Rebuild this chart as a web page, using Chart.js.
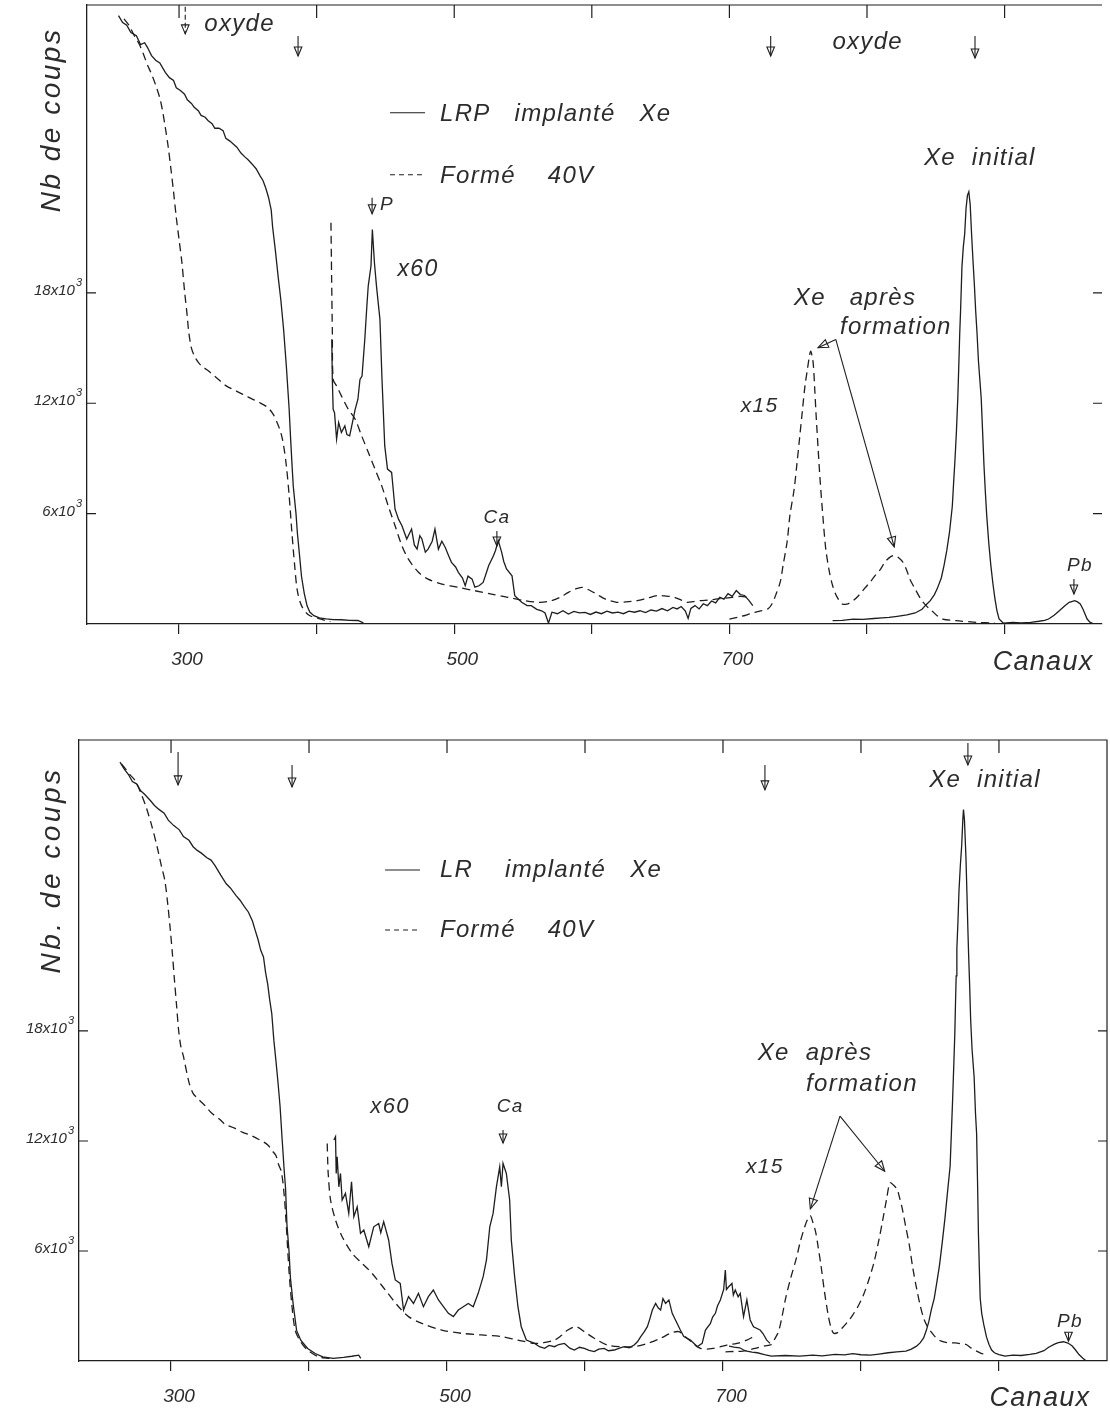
<!DOCTYPE html>
<html lang="fr">
<head>
<meta charset="utf-8">
<title>Spectres - LRP / LR implantés Xe</title>
<script src="https://cdn.jsdelivr.net/npm/chart.js@4.4.0/dist/chart.umd.min.js"></script>
<style>
  html, body { margin: 0; padding: 0; background: #fff; }
  #haut { position: absolute; left: 0; top: 0; }
  #bas { position: absolute; left: 0; top: 700px; }
</style>
</head>
<body>
<canvas id="haut" width="1110" height="700"></canvas>
<canvas id="bas" width="1110" height="717"></canvas>
<script>
// --- donnees : [canal, nb de coups] ---

// panneau du haut : LRP implanté Xe (trait plein) / Formé 40V (tirets)
const lrpBrut = [[256,33070],[259,32700],[262,32550],[265,32150],[269,31980],[272,31500],[275,31600],[277,31350],[280,30900],[283,30650],[286,30500],[290,29990],[293,29700],[296,29550],[298,29150],[301,29000],[304,28800],[306,28500],[309,28300],[311,28090],[314,27900],[316,27650],[319,27550],[321,27370],[324,27200],[326,26950],[329,26950],[332,26820],[334,26400],[337,26250],[340,26050],[342,25920],[345,25600],[348,25380],[350,25250],[353,25010],[356,24750],[359,24350],[361,24110],[363,23700],[365,23200],[367,22500],[368,21580],[370,20310],[372,18900],[374,17600],[376,16000],[378,14000],[380,11700],[381,10200],[382,8800],[383,7500],[385,6000],[386,4950],[388,3400],[389,2580],[391,1670],[393,1000],[395,650],[398,450],[402,330],[407,280],[412,240],[418,230],[424,200],[430,190],[434,60]];
const lrpFormeBrut = [[260,32900],[264,32500],[268,31900],[271,31530],[274,31000],[277,30400],[280,29900],[283,29300],[286,28600],[288,27900],[290,27000],[292,26000],[294,24800],[296,23500],[298,22100],[300,20900],[302,19700],[304,18100],[306,16700],[307,15900],[309,15000],[312,14450],[316,14050],[321,13780],[327,13400],[334,12960],[342,12650],[350,12350],[358,12050],[364,11800],[368,11450],[371,11000],[374,10400],[376,9700],[378,8600],[380,7000],[382,5000],[384,3200],[386,1800],[389,1000],[394,500],[401,300],[410,130]];
const lrpX60 = [[411,15480],[411.4,13300],[412,11670],[413,11490],[414.5,10050],[416,10950],[418,10410],[420.5,10770],[422,10300],[424,10230],[426.5,11130],[428,11670],[430,12220],[431.5,13300],[433,13480],[435,15480],[436.5,17290],[437.5,18370],[439.5,19460],[440.5,21450],[442,19640],[443.5,18370],[446,16560],[447.5,13300],[449.5,9680],[451.5,8420],[454.5,8240],[457,6240],[459.5,5700],[462,5340],[465.5,4620],[469,5160],[471,4300],[473,4070],[475,4800],[476.5,4620],[479,3900],[481,4070],[484,4500],[486,5160],[488.5,4070],[491,4500],[493.5,4160],[496,3700],[498,3350],[501,3100],[503,2810],[506,2500],[508,2080],[510,2600],[513,2440],[515,2000],[518,2080],[521,2260],[523,2700],[525,3170],[528.5,3710],[530,4000],[532,4530],[534.5,3890],[536,3400],[538,2990],[542,2620],[544,1540],[549,1180],[553,1000],[556,1000],[560,800],[563.5,720],[566,600],[568.5,50],[571,640],[575,560],[579,720],[583,540],[587,680],[591,600],[595,630],[599,520],[603,650],[607,560],[611,700],[615,600],[619,640],[623,560],[627,700],[631,640],[635,720],[639,620],[643,760],[647,700],[651,840],[655,720],[659,900],[662,820],[665,950],[668,700],[670,300],[672,850],[675,1000],[678,820],[681,1100],[684,1000],[687,1250],[690,1150],[693,1450],[696,1350],[699,1650],[702,1500],[705,1820],[708,1600],[711,1550],[714,1300],[717,1000]];
const lrpFormeX60 = [[410.4,21810],[410.7,20000],[410.9,18730],[411.2,17000],[411.4,16020],[412,13300],[414.5,12940],[418,12400],[423,11670],[428,11130],[432.7,10230],[437.6,9320],[442.4,8420],[447.3,7510],[452,6430],[457,5340],[462,4250],[466.7,3530],[474,2810],[481,2440],[491,2170],[503,1990],[515,1810],[527,1630],[539,1450],[551,1270],[562,1180],[570,1250],[577,1450],[583,1720],[588,1900],[593,1990],[598,1850],[604,1600],[610,1350],[618,1180],[625,1200],[633,1270],[640,1400],[648,1550],[654,1520],[660,1450],[665,1300],[669,1180],[674,1220],[679,1270],[685,1300],[690,1350],[696,1400],[702,1450],[708,1500],[714,1450]];
const lrpFormeX15 = [[700,270],[708,400],[715,550],[722,700],[728,820],[731,1100],[734,1640],[737,2300],[739,3190],[742,4500],[744,5920],[747,7300],[749,8650],[751,10100],[753,11560],[755,13000],[756.5,13740],[758,14500],[759,14830],[760,14600],[761,14100],[762,12800],[763,11380],[764.5,9500],[766,7740],[768,5800],[770,4100],[772.5,2900],[775,2090],[778,1500],[782,1090],[786,1100],[790,1270],[794,1550],[798,1910],[802,2250],[806,2640],[810,3000],[813,3370],[817,3650],[820,3730],[823,3600],[826,3370],[829,2900],[831,2460],[835,1900],[839,1370],[843,1000],[847,730],[851,450],[855,270],[865,180],[880,90],[893,50]];
const lrpXe = [[775,180],[782,200],[790,270],[797,250],[805,300],[811,330],[816,360],[822,420],[829,500],[835,600],[840,800],[843,1050],[846,1270],[849,1600],[851,1910],[854,2500],[856,3190],[858,4000],[860,5010],[862,6400],[863,7740],[864,9000],[865,10470],[866,12300],[866.7,14000],[867.4,15800],[868,17000],[869,19400],[870,20500],[871,21210],[872,22600],[873,23300],[874,23500],[875,22800],[876,21210],[877,19800],[878,18500],[879,17000],[880,15780],[881,14300],[883,12290],[884,10500],[885,8650],[886,7200],[887,5920],[888.5,4400],[890,3190],[891.5,2200],[893,1370],[894.5,700],[896,270],[899,50],[906,90],[912,60],[919,90],[925,150],[929,200],[932,270],[936,480],[940,730],[944,1000],[947,1180],[951,1270],[953,1200],[955,1090],[957,800],[960,270],[962,100],[965,0]];

// panneau du bas : LR implanté Xe (trait plein) / Formé 40V (tirets)
const lrBrut = [[263,32660],[266,32300],[269,32000],[272,31600],[275,31480],[278,31100],[281,30900],[285,30570],[288,30300],[291,30100],[295,29880],[298,29500],[302,29200],[306,28970],[309,28600],[313,28400],[316,28050],[319,27850],[322,27700],[326,27450],[329,27320],[332,27000],[336,26500],[340,26030],[343,25800],[347,25400],[350,25130],[353,24800],[356,24490],[359,24000],[361,23490],[363,23000],[365,22400],[367,22040],[368.5,21200],[370,20580],[371.5,19700],[373,18950],[374.5,17500],[376,16400],[377.5,15200],[379,13910],[380.5,12110],[382,10400],[383,9410],[384,7430],[385.5,5990],[386.5,4550],[388.5,3110],[391,1670],[394,1130],[399,680],[404.5,410],[410,230],[417.5,140],[425,200],[431,260],[436,320],[437.5,140]];
const lrFormeBrut = [[264,32570],[267,32300],[270,32000],[274,31660],[278,31000],[282,30200],[286,29200],[290,28020],[293,27000],[295.5,26210],[297.5,25000],[299.5,23490],[301,22200],[302.5,20760],[304,19400],[305.5,18040],[307,17200],[309,16610],[313,15200],[316,14600],[320,14270],[325,13900],[329,13550],[335,13200],[339,12920],[346,12700],[352,12470],[358,12300],[363,12110],[367,11950],[370.5,11750],[373.5,11450],[376,11210],[378,10700],[380,10310],[382,9050],[383.5,7430],[385.5,4910],[387.5,3110],[390,1670],[394,1040],[399,590],[407,230],[415,140]];
const lrX60 = [[418,12050],[419.2,12230],[419.7,10230],[420.4,11140],[421.6,9500],[422.8,10230],[424,8780],[426.4,9140],[428.8,8050],[430.8,9780],[432.5,7870],[434.9,8410],[437.3,6960],[439.7,7140],[443.3,6230],[446.9,7320],[450.5,7500],[452,7000],[454.1,7600],[457.7,6600],[460.1,5320],[462.5,4420],[466.1,4230],[468.5,2780],[472.1,3510],[475.7,3140],[479.3,3690],[482.9,2960],[486.5,3510],[490.1,3870],[493.8,3330],[497.4,2960],[501,2600],[504.6,2420],[508.2,2780],[511.8,2960],[515.4,3140],[519,2960],[522.6,3690],[526.2,4600],[528.6,5510],[531,7320],[533.4,8050],[535.8,9500],[538.2,10590],[539.4,9500],[540.6,10780],[543,10230],[545.4,8780],[546.6,6600],[549,4600],[551.4,2960],[553.8,1870],[557.5,1140],[563.5,960],[567,780],[570.7,690],[574,850],[577.9,780],[581,900],[585.1,960],[589,700],[592.3,600],[596,750],[599.5,690],[603,580],[606.7,510],[610,650],[613.9,690],[617,560],[621.2,600],[625,700],[628.4,780],[632,720],[635.6,870],[638,1050],[640.4,1330],[643,1600],[645.2,1870],[647,2300],[648.8,2780],[651.2,3140],[653,2900],[654.8,2780],[656.5,3400],[658.4,3140],[660.8,3330],[663.2,2600],[666.8,2050],[669,1700],[671.6,1330],[676.4,1140],[679,950],[681.3,780],[684.9,960],[687.3,1690],[690.9,2050],[692.5,2400],[694.5,2600],[696,3000],[698.1,3330],[700.5,3900],[701.7,4960],[702.5,3900],[704.1,4050],[706.5,4230],[707.5,3600],[708.9,3870],[711,3500],[712.5,3690],[714.9,2420],[717.3,3330],[719.7,2240],[722.1,1870],[726.9,1690],[729,1500],[731.7,1140],[734.1,960]];
const lrFormeX60 = [[413.2,11860],[413.5,11000],[413.9,10230],[415.6,8780],[419.2,7690],[424,6780],[431.3,5870],[438.5,5320],[445.7,4780],[455.3,3870],[464.9,2960],[472.1,2420],[481.7,2050],[496.2,1690],[510.6,1510],[525,1420],[539.4,1330],[551.4,1140],[563.5,960],[570,1000],[577.9,1140],[583,1400],[587.5,1690],[593.5,1870],[599.5,1600],[606.7,1240],[616.3,870],[626,780],[635.6,780],[645.2,960],[654.8,1240],[662,1510],[668,1600],[674,1240],[683.7,690],[693.3,690],[702.9,870],[710.1,960],[717.3,1140],[722.1,1330]];
const lrFormeX15 = [[701.8,500],[708,520],[714.6,540],[720,620],[724.9,720],[730,820],[735.1,900],[737.5,1200],[740.3,1620],[743,2500],[745.4,3420],[749,4500],[753.1,5580],[756,6500],[759.5,7380],[761.5,7750],[763.3,7920],[765,7600],[767.2,7020],[769,6200],[771,5220],[773.5,3800],[776.2,2520],[778,1900],[780,1530],[783,1550],[786.4,1800],[790,2100],[794.1,2520],[798,3000],[801.8,3600],[806,4500],[809.5,5400],[813,6600],[815.9,7740],[818.5,8800],[821,9720],[823.5,9600],[826.2,9360],[828,8900],[830,8280],[832.5,7300],[835.1,6300],[837.5,5100],[840.3,3960],[843,3000],[845.4,2340],[848,1900],[850.5,1620],[854,1300],[858.2,1080],[863,1000],[868.5,990],[872,950],[876.2,900],[880,700],[883.8,540],[887,420],[891.5,360]];
const lrXe = [[704.4,810],[708,760],[712.1,720],[715,600],[717.2,540],[721,480],[724.9,450],[730,350],[735.1,270],[745,300],[755.6,270],[765,320],[772,280],[781.3,360],[788,330],[794.1,400],[800,340],[806.9,320],[813,380],[819.7,450],[826,500],[832.6,540],[836.5,650],[840.3,810],[843,1000],[845.4,1260],[847.5,1700],[849.2,2160],[851,2800],[853.1,3420],[855,4300],[856.9,5220],[858.8,6400],[860.8,7740],[862.7,9200],[864.6,10620],[865.5,12400],[866.4,14220],[867.2,16000],[868,17820],[868.5,19500],[869,21000],[869.5,22500],[870.3,24000],[871,25590],[872,27000],[873,28130],[873.8,29500],[874.3,30080],[875,29500],[876.1,27420],[876.8,25500],[877.4,23750],[878,22200],[878.7,20630],[879.5,18600],[880.5,17000],[882,15500],[883,13500],[883.8,12420],[884.5,9700],[885.1,7020],[885.8,5000],[886.4,3420],[887.5,2600],[889,1980],[891,1300],[892.8,900],[894.7,600],[896.7,450],[900,350],[904.4,270],[910,320],[916,300],[922.3,360],[927,420],[932.6,560],[936,750],[940.3,920],[943,1000],[946.7,1050],[950,980],[953.1,820],[955.5,600],[958,350],[960.8,150],[963.3,0]];

// graduations
const canauxEtiquetes = [300, 500, 700];
const coupsEtiquetes = [6000, 12000, 18000];

// --- textes et flèches (en coordonnées canal / coups) ---
const textesHaut = [
  { t: 'oxyde', ch: 344, c: 32620, s: 24 },
  { t: 'oxyde', ch: 800.5, c: 31630, s: 24 },
  { t: 'LRP   implanté   Xe', ch: 489.7, c: 27680, s: 24, a: 'left' },
  { t: 'Formé    40V', ch: 489.7, c: 24310, s: 24, a: 'left' },
  { t: 'Xe  initial', ch: 882, c: 25340, s: 24 },
  { t: 'P', ch: 446, c: 22790, s: 19, a: 'left' },
  { t: 'x60', ch: 473.7, c: 19250, s: 23 },
  { t: 'Xe   après', ch: 791.3, c: 17730, s: 24 },
  { t: 'formation', ch: 821, c: 16150, s: 24 },
  { t: 'x15', ch: 722, c: 11850, s: 21 },
  { t: 'Ca', ch: 531, c: 5760, s: 19 },
  { t: 'Pb', ch: 954.8, c: 3150, s: 19 },
  { t: 'Canaux', ch: 928, c: -2070, s: 27 }
];
const flechesHaut = [
  { ch: 304.5, c1: 33550, c2: 32080, tirets: true },
  { ch: 386.5, c1: 31970, c2: 30880 },
  { ch: 730, c1: 31970, c2: 30880 },
  { ch: 878.5, c1: 31970, c2: 30770 },
  { ch: 440.3, c1: 23170, c2: 22300 },
  { ch: 531, c1: 5060, c2: 4240 },
  { ch: 950.4, c1: 2450, c2: 1630 }
];
const renvoisHaut = [
  { de: [777.3, 15470], a: [764.4, 15020] },
  { de: [777.3, 15470], a: [819.8, 4190] }
];

const textesBas = [
  { t: 'Xe  initial', ch: 889.9, c: 31690, s: 24 },
  { t: 'LR    implanté   Xe', ch: 494.9, c: 26780, s: 24, a: 'left' },
  { t: 'Formé    40V', ch: 494.9, c: 23510, s: 24, a: 'left' },
  { t: 'x60', ch: 458.7, c: 13860, s: 22 },
  { t: 'Ca', ch: 545.7, c: 13860, s: 19 },
  { t: 'Xe  après', ch: 766.7, c: 16800, s: 24 },
  { t: 'formation', ch: 800.7, c: 15110, s: 24 },
  { t: 'x15', ch: 730.4, c: 10580, s: 21 },
  { t: 'Pb', ch: 951.4, c: 2150, s: 19 },
  { t: 'Canaux', ch: 929.7, c: -2020, s: 27 }
];
const flechesBas = [
  { ch: 305.1, c1: 33220, c2: 31420 },
  { ch: 387.7, c1: 32510, c2: 31310 },
  { ch: 730.4, c1: 32510, c2: 31150 },
  { ch: 877.5, c1: 33710, c2: 32510 },
  { ch: 540.6, c1: 12600, c2: 11890 },
  { ch: 950.4, c1: 1550, c2: 1080 }
];
const renvoisBas = [
  { de: [784.8, 13360], a: [763.3, 8300] },
  { de: [784.8, 13360], a: [817.2, 10350] }
];

const ENCRE = '#1e1e1e';
const TEXTE = '#2c2c2c';
const POLICE = '"Liberation Sans", "Noto Sans", sans-serif';

function fleche(ctx, x1, y1, x2, y2, taille) {
  ctx.beginPath();
  ctx.moveTo(x1, y1);
  ctx.lineTo(x2, y2);
  ctx.stroke();
  ctx.setLineDash([]);
  const ang = Math.atan2(y2 - y1, x2 - x1);
  const bx = x2 - taille * Math.cos(ang), by = y2 - taille * Math.sin(ang);
  const px = -Math.sin(ang) * taille * 0.42, py = Math.cos(ang) * taille * 0.42;
  ctx.beginPath();
  ctx.moveTo(x2, y2);
  ctx.lineTo(bx + px, by + py);
  ctx.lineTo(bx - px, by - py);
  ctx.closePath();
  ctx.stroke();
}

// cadre, graduations intérieures, étiquettes des coups, titres et annotations
const habillage = {
  id: 'habillage',
  afterDraw(chart, args, opts) {
    const { ctx, chartArea: a, scales: { x, y } } = chart;
    const X = v => x.getPixelForValue(v);
    const Y = v => y.getPixelForValue(v);
    ctx.save();
    ctx.strokeStyle = ENCRE;
    ctx.lineWidth = 1.2;

    ctx.beginPath();
    ctx.moveTo(a.left, a.top);
    ctx.lineTo(a.right, a.top);
    if (opts.cadreDroit) ctx.lineTo(a.right, a.bottom);
    ctx.stroke();

    for (let c = 300; c <= x.max; c += 100) {
      ctx.beginPath();
      ctx.moveTo(X(c), a.top);
      ctx.lineTo(X(c), a.top + 13);
      ctx.stroke();
    }
    coupsEtiquetes.forEach(v => {
      ctx.beginPath();
      ctx.moveTo(a.left, Y(v));
      ctx.lineTo(a.left + 9, Y(v));
      ctx.moveTo(a.right - 9, Y(v));
      ctx.lineTo(a.right, Y(v));
      ctx.stroke();
    });

    ctx.fillStyle = TEXTE;

    // étiquettes 6x10^3 ... avec exposant
    ctx.textBaseline = 'alphabetic';
    coupsEtiquetes.forEach(v => {
      ctx.font = 'italic 11px ' + POLICE;
      const wExp = ctx.measureText('3').width;
      const xExp = a.left - 5 - wExp;
      ctx.textAlign = 'left';
      ctx.fillText('3', xExp, Y(v) - 7);
      ctx.font = 'italic 15px ' + POLICE;
      ctx.textAlign = 'right';
      ctx.fillText((v / 1000) + 'x10', xExp - 1, Y(v) + 2);
    });

    ctx.textBaseline = 'middle';

    // titre vertical
    ctx.save();
    ctx.translate(X(opts.titre.ch), Y(opts.titre.c));
    ctx.rotate(-Math.PI / 2);
    ctx.textAlign = 'center';
    ctx.font = 'italic 28px ' + POLICE;
    ctx.letterSpacing = opts.titre.esp + 'px';
    ctx.fillText(opts.titre.t, 0, 0);
    ctx.restore();

    // légende
    ctx.lineWidth = 1.1;
    opts.legende.forEach(l => {
      ctx.setLineDash(l.tirets ? [5, 4] : []);
      ctx.beginPath();
      ctx.moveTo(X(l.ch1), Y(l.c));
      ctx.lineTo(X(l.ch2), Y(l.c));
      ctx.stroke();
    });
    ctx.setLineDash([]);

    ctx.letterSpacing = '1.3px';
    opts.textes.forEach(t => {
      ctx.font = 'italic ' + t.s + 'px ' + POLICE;
      ctx.textAlign = t.a || 'center';
      ctx.fillText(t.t, X(t.ch), Y(t.c));
    });
    ctx.letterSpacing = '0px';

    ctx.lineWidth = 1.1;
    opts.fleches.forEach(f => {
      ctx.setLineDash(f.tirets ? [5, 3] : []);
      fleche(ctx, X(f.ch), Y(f.c1), X(f.ch), Y(f.c2), 9);
    });
    ctx.setLineDash([]);
    opts.renvois.forEach(r => {
      fleche(ctx, X(r.de[0]), Y(r.de[1]), X(r.a[0]), Y(r.a[1]), 10);
    });
    ctx.restore();
  }
};

function serie(points, tirets) {
  return {
    data: points.map(([ch, c]) => ({ x: ch, y: c })),
    borderColor: ENCRE,
    borderWidth: 1.3,
    borderDash: tirets ? [8, 5] : [],
    pointRadius: 0,
    tension: tirets ? 0.3 : 0,
    fill: false
  };
}

function construire(id, series, cfg) {
  return new Chart(document.getElementById(id), {
    type: 'line',
    data: { datasets: series },
    options: {
      responsive: false,
      animation: false,
      devicePixelRatio: 1,
      layout: { padding: { top: cfg.hautPad, right: cfg.droitePad, left: 0, bottom: 0 } },
      plugins: {
        legend: { display: false },
        tooltip: { enabled: false },
        habillage: cfg.habillage
      },
      scales: {
        x: {
          type: 'linear',
          min: cfg.xmin,
          max: cfg.xmax,
          afterFit: s => { s.height = cfg.xHauteur; },
          ticks: {
            stepSize: 100,
            includeBounds: false,
            autoSkip: false,
            maxRotation: 0,
            labelOffset: 8,
            padding: 14,
            color: TEXTE,
            font: { family: POLICE, style: 'italic', size: 19 },
            callback: v => canauxEtiquetes.includes(v) ? String(v) : ''
          },
          grid: { drawOnChartArea: false, drawTicks: true, tickLength: 10, color: ENCRE, lineWidth: 1.2 },
          border: { display: true, color: ENCRE, width: 1.3 }
        },
        y: {
          type: 'linear',
          min: 0,
          max: cfg.ymax,
          afterFit: s => { s.width = cfg.yLargeur; },
          ticks: { display: false, stepSize: 6000 },
          grid: { display: false },
          border: { display: true, color: ENCRE, width: 1.3 }
        }
      }
    },
    plugins: [habillage]
  });
}

construire('haut', [
  serie(lrpBrut, false),
  serie(lrpFormeBrut, true),
  serie(lrpX60, false),
  serie(lrpFormeX60, true),
  serie(lrpFormeX15, true),
  serie(lrpXe, false)
], {
  xmin: 233.1, xmax: 970.8, ymax: 33650,
  hautPad: 5, droitePad: 8, xHauteur: 76, yLargeur: 87,
  habillage: {
    cadreDroit: false,
    titre: { t: 'Nb de coups', ch: 207.7, c: 27400, esp: 2.5 },
    legende: [
      { ch1: 453.3, ch2: 478.8, c: 27790, tirets: false },
      { ch1: 453.3, ch2: 478.8, c: 24420, tirets: true }
    ],
    textes: textesHaut, fleches: flechesHaut, renvois: renvoisHaut
  }
});

construire('bas', [
  serie(lrBrut, false),
  serie(lrFormeBrut, true),
  serie(lrX60, false),
  serie(lrFormeX60, true),
  serie(lrFormeX15, true),
  serie(lrXe, false)
], {
  xmin: 233.3, xmax: 978.3, ymax: 33870,
  hautPad: 40, droitePad: 3, xHauteur: 56, yLargeur: 79,
  habillage: {
    cadreDroit: true,
    titre: { t: 'Nb. de coups', ch: 213.8, c: 26780, esp: 3.5 },
    legende: [
      { ch1: 455.1, ch2: 480.4, c: 26780, tirets: false },
      { ch1: 455.1, ch2: 480.4, c: 23510, tirets: true }
    ],
    textes: textesBas, fleches: flechesBas, renvois: renvoisBas
  }
});
</script>
</body>
</html>
